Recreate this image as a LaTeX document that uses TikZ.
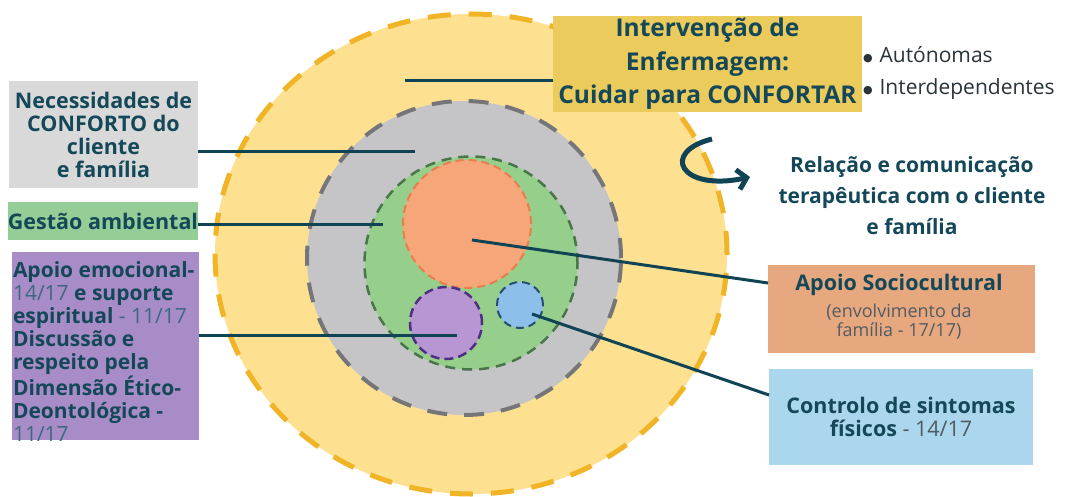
\documentclass[tikz,border=0pt]{standalone}
\usepackage{fontspec}
\setmainfont{Open Sans}
\newfontfamily\dejavufam{DejaVu Sans}
\usetikzlibrary{arrows.meta}
\definecolor{txt}{RGB}{20,72,88}
\definecolor{numtxt}{RGB}{60,105,128}
\definecolor{subtxt}{RGB}{80,92,98}
\definecolor{bultxt}{RGB}{40,52,58}
\definecolor{conn}{RGB}{16,68,84}
\definecolor{yelfill}{RGB}{253,225,145}
\definecolor{yeldash}{RGB}{240,180,38}
\definecolor{grayfill}{RGB}{197,197,199}
\definecolor{graydash}{RGB}{118,118,122}
\definecolor{grnfill}{RGB}{150,207,140}
\definecolor{grndash}{RGB}{72,118,72}
\definecolor{orfill}{RGB}{247,166,122}
\definecolor{ordash}{RGB}{232,125,78}
\definecolor{pufill}{RGB}{184,150,212}
\definecolor{pudash}{RGB}{78,48,128}
\definecolor{blfill}{RGB}{140,192,234}
\definecolor{bldash}{RGB}{38,78,110}
\definecolor{boxgray}{RGB}{217,217,217}
\definecolor{boxgreen}{RGB}{148,206,150}
\definecolor{boxpurple}{RGB}{168,140,200}
\definecolor{boxyellow}{RGB}{234,203,92}
\definecolor{boxorange}{RGB}{231,168,128}
\definecolor{boxblue}{RGB}{170,214,238}
\newcommand{\bigdot}{{\dejavufam\fontsize{11}{11}\selectfont\raisebox{1pt}{●}}}
\begin{document}
\begin{tikzpicture}[x=1pt,y=-1pt,
  ring/.style={circle,inner sep=0pt,outer sep=0pt},
  boxst/.style={rectangle,inner sep=0pt,outer sep=0pt,text=txt,align=center},
  bfont/.style={font=\fontsize{21.5}{23}\selectfont\bfseries},
  connector/.style={draw=conn,line width=3pt},
]
\useasboundingbox (0,0) rectangle (1065,497);
\fill[white] (0,0) rectangle (1065,497);

% outer yellow ring
\filldraw[fill=yelfill,draw=yeldash,line width=5pt,dash pattern=on 23pt off 18pt]
  (471,254) ellipse [x radius=256pt, y radius=240pt];

% boxes
\node[boxst,fill=boxyellow,minimum width=309pt,minimum height=96pt,
  font=\fontsize{24.5}{33.5}\selectfont\bfseries] (topbox) at (707.5,64)
  {Intervenção de\\Enfermagem:\\Cuidar para CONFORTAR};
\node[boxst,fill=boxgray,minimum width=189pt,minimum height=107pt,bfont] (necbox) at (103.5,134.5)
  {Necessidades de\\CONFORTO do\\cliente\\e família};
\node[boxst,fill=boxgreen,minimum width=190pt,minimum height=38pt,bfont] (gestbox) at (103,221)
  {Gestão ambiental};
\node[boxst,fill=boxpurple,minimum width=187pt,minimum height=188pt] (purpbox) at (105.5,346) {};
\begin{scope}
  \clip (purpbox.north west) rectangle (purpbox.south east);
  \node[boxst,align=left,anchor=north west,font=\fontsize{21}{23}\selectfont\bfseries] (purptext) at (13,262)
  {Apoio emocional-\\{\mdseries\color{numtxt}14/17} e suporte\\espiritual {\mdseries\color{numtxt}- 11/17}\\Discussão e\\respeito pela\\Dimensão Ético-\\Deontológica -\\{\mdseries\color{numtxt}11/17}};
\end{scope}
\node[boxst,fill=boxorange,minimum width=267pt,minimum height=88pt] (sociobox) at (901.5,309) {};
\node[boxst,anchor=base,bfont] (sociotitle) at (899,290.5) {Apoio Sociocultural};
\node[boxst,anchor=north,text=subtxt,font=\fontsize{18}{19}\selectfont] (sociosub) at (899,304) {(envolvimento da\\família - 17/17)};
\node[boxst,fill=boxblue,minimum width=264pt,minimum height=96pt,bfont] (sympbox) at (901,417)
  {Controlo de sintomas\\físicos {\mdseries\color{subtxt}- 14/17}};

% right texts
\node[boxst,font=\fontsize{21}{31}\selectfont\bfseries] (relac) at (912,196)
  {Relação e comunicação\\terapêutica com o cliente\\e família};
\node[boxst,anchor=base west,text=bultxt,font=\fontsize{21}{23}\selectfont] (bul1) at (863,62.5)
  {\bigdot\hspace{7pt}Autónomas};
\node[boxst,anchor=base west,text=bultxt,font=\fontsize{21}{23}\selectfont] (bul2) at (863,94.5)
  {\bigdot\hspace{7pt}Interdependentes};

% inner circles
\node[ring,minimum size=314pt,fill=grayfill,draw=graydash,line width=4pt,dash pattern=on 20pt off 17pt] (grayc) at (464,258) {};
\node[ring,minimum size=213pt,fill=grnfill,draw=grndash,line width=2.5pt,dash pattern=on 10pt off 7pt] (greenc) at (471,263) {};
\node[ring,minimum size=128pt,fill=orfill,draw=ordash,line width=2pt,dash pattern=on 8pt off 5pt] (orc) at (467,224) {};
\node[ring,minimum size=72pt,fill=pufill,draw=pudash,line width=2.5pt,dash pattern=on 9pt off 5pt] (puc) at (446,323) {};
\node[ring,minimum size=46pt,fill=blfill,draw=bldash,line width=2pt,dash pattern=on 8pt off 5pt] (blc) at (520,305) {};

% connectors
\coordinate (tStart) at (405,81);
\draw[connector] (tStart) -- ([yshift=-17pt]topbox.west);
\coordinate (nEnd) at (415,152);
\draw[connector] (necbox.east |- nEnd) -- (nEnd);
\coordinate (gEnd) at (383,224);
\draw[connector] (gestbox.east |- gEnd) -- (gEnd);
\coordinate (pEnd) at (457,335);
\draw[connector] (purpbox.east |- pEnd) -- (pEnd);
\coordinate (oStart) at (472,240);
\draw[connector] (oStart) -- ([yshift=26pt]sociobox.west);
\coordinate (bStart) at (532,314);
\draw[connector] (bStart) -- ([yshift=22pt]sympbox.west);

% curved arrow
\coordinate (aStart) at (712,139);
\coordinate (aTip) at (750,177);
\draw[draw=conn,line width=5pt,-{Straight Barb[length=9pt,width=20pt]}]
  (aStart) .. controls (660,152) and (680,192) .. (aTip);
\end{tikzpicture}
\end{document}
